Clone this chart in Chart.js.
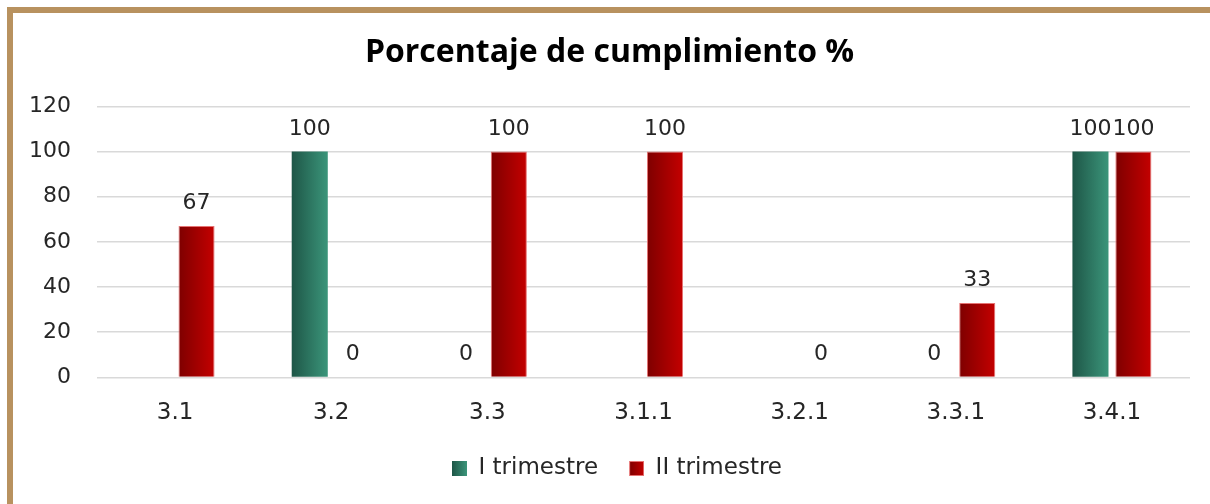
<!DOCTYPE html>
<html>
<head>
<meta charset="utf-8">
<script src="https://cdn.jsdelivr.net/npm/chart.js@4.4.1/dist/chart.umd.min.js"></script>
<style>
  html, body { margin: 0; padding: 0; background: #fff; overflow: hidden; }
  #frame {
    position: absolute; left: 7px; top: 7px;
    width: 1220px; height: 520px;
    border-top: 6px solid #B8925F; border-left: 6px solid #B8925F;
  }
  #box { position: absolute; left: 0; top: 0; width: 1197px; height: 491px; }
</style>
</head>
<body>
<div id="frame"><div id="box"><canvas id="chart"></canvas></div></div>
<script>
const categories = ["3.1", "3.2", "3.3", "3.1.1", "3.2.1", "3.3.1", "3.4.1"];
const trimestre1 = [null, 100, 0, null, null, 0, 100];
const trimestre2 = [67, 0, 100, 100, 0, 33, 100];
const yTicks = [0, 20, 40, 60, 80, 100, 120];

const greenStops = ["#1E5647", "#3B957A"];
const redStops = ["#7E0000", "#C40000"];

const FONT = "'DejaVu Sans', sans-serif";

// horizontal gradient per bar, read from the element once it has been laid out
function barFill(stops) {
  return function (c) {
    const meta = c.chart.getDatasetMeta(c.datasetIndex);
    const el = meta.data[c.dataIndex];
    if (!el || el.x == null || isNaN(el.x) || !el.width) return stops[1];
    const g = c.chart.ctx.createLinearGradient(el.x - el.width / 2, 0, el.x + el.width / 2, 0);
    g.addColorStop(0, stops[0]);
    g.addColorStop(1, stops[1]);
    return g;
  };
}

// legend marker: blank space on the left, gradient square on the right
function legendBox(stops, border) {
  const cv = document.createElement("canvas");
  cv.width = 30; cv.height = 15;
  const x = cv.getContext("2d");
  const g = x.createLinearGradient(15, 0, 30, 0);
  g.addColorStop(0, stops[0]);
  g.addColorStop(1, stops[1]);
  x.fillStyle = g;
  x.fillRect(15, 0, 15, 15);
  if (border) {
    x.strokeStyle = border;
    x.lineWidth = 1;
    x.strokeRect(15.5, 0.5, 14, 14);
  }
  return cv;
}

// value labels above bars (no datalabels plugin available)
const valueLabels = {
  id: "valueLabels",
  afterDatasetsDraw(chart) {
    const ctx = chart.ctx;
    ctx.save();
    ctx.font = "22px " + FONT;
    ctx.fillStyle = "#262626";
    ctx.textAlign = "center";
    ctx.textBaseline = "alphabetic";
    chart.data.datasets.forEach((ds, di) => {
      chart.getDatasetMeta(di).data.forEach((el, i) => {
        const v = ds.data[i];
        if (v === null || v === undefined) return;
        ctx.fillText(String(v), el.x, el.y - 17);
      });
    });
    ctx.restore();
  }
};

const chart = new Chart(document.getElementById("chart"), {
  type: "bar",
  data: {
    labels: categories,
    datasets: [
      {
        label: "I trimestre",
        data: trimestre1,
        backgroundColor: barFill(greenStops),
        borderWidth: 0
      },
      {
        label: "II trimestre",
        data: trimestre2,
        backgroundColor: barFill(redStops),
        borderColor: "#E57373",
        borderWidth: 1
      }
    ]
  },
  options: {
    responsive: true,
    maintainAspectRatio: false,
    animation: false,
    datasets: { bar: { categoryPercentage: 0.55, barPercentage: 0.84 } },
    layout: { padding: { left: 16, right: 20, top: 10, bottom: 14 } },
    plugins: {
      title: {
        display: true,
        text: "Porcentaje de cumplimiento %",
        color: "#000",
        font: { family: "'Open Sans', sans-serif", size: 32, weight: "bold" },
        padding: { top: 11, bottom: 34 }
      },
      legend: {
        position: "bottom",
        labels: {
          color: "#262626",
          font: { family: FONT, size: 23 },
          usePointStyle: true,
          pointStyleWidth: 30,
          boxHeight: 15,
          padding: 16,
          generateLabels(chart) {
            return [
              { text: "I trimestre", pointStyle: legendBox(greenStops), datasetIndex: 0, fontColor: "#262626" },
              { text: "II trimestre", pointStyle: legendBox(redStops, "#E57373"), datasetIndex: 1, fontColor: "#262626" }
            ];
          }
        }
      },
      tooltip: { enabled: false }
    },
    scales: {
      x: {
        grid: { display: false },
        border: { display: false },
        ticks: { color: "#262626", font: { family: FONT, size: 23 }, padding: 14 }
      },
      y: {
        min: 0,
        max: 120,
        afterBuildTicks(scale) { scale.ticks = yTicks.map(v => ({ value: v })); },
        afterFit(scale) { scale.width = 68; },
        grid: { color: "#D9D9D9", lineWidth: 1.5, drawTicks: false },
        border: { display: false },
        ticks: { color: "#262626", font: { family: FONT, size: 22 }, padding: 26 }
      }
    }
  },
  plugins: [valueLabels]
});

// second pass so the gradients can use the laid-out bar positions
chart.update();
</script>
</body>
</html>
